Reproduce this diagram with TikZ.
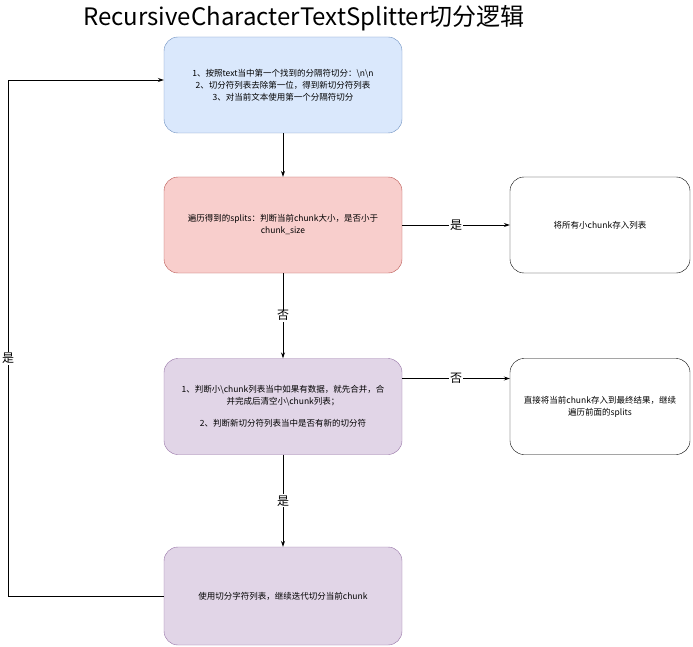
\documentclass[tikz,border=0pt]{standalone}
\usepackage{fontspec}
\setmainfont{Noto Sans CJK SC}
\usetikzlibrary{positioning,arrows.meta}
\definecolor{blueFill}{HTML}{DAE8FC}
\definecolor{blueLine}{HTML}{6C8EBF}
\definecolor{redFill}{HTML}{F8CECC}
\definecolor{redLine}{HTML}{B85450}
\definecolor{purpleFill}{HTML}{E1D5E7}
\definecolor{purpleLine}{HTML}{9673A6}
\tikzset{
  box/.style={draw, rounded corners=14pt, minimum width=238pt, minimum height=96pt,
    align=center, font=\fontsize{8.5}{12}\selectfont, inner sep=2pt},
  sidebox/.style={box, minimum width=180pt},
  flow/.style={-{Stealth[length=6pt,width=4pt]}, line width=0.7pt},
  lbl/.style={font=\fontsize{12}{14}\selectfont, fill=white, inner sep=1pt}
}
\begin{document}
\begin{tikzpicture}[x=1pt, y=-1pt]
    \useasboundingbox (0,0) rectangle (693,647);

    % Title
    \node[font=\fontsize{24}{28}\selectfont] (title) at (304,18) {RecursiveCharacterTextSplitter切分逻辑};

    % Main column
    \node[box, fill=blueFill, draw=blueLine] (split) at (283,85)
        {1、按照text当中第一个找到的分隔符切分：\textbackslash n\textbackslash n\\
         2、切分符列表去除第一位，得到新切分符列表\\
         3、对当前文本使用第一个分隔符切分};
    \node[box, fill=redFill, draw=redLine] (loop) at (283,225)
        {遍历得到的splits：判断当前chunk大小，是否小于\\chunk\_size};
    \node[box, fill=purpleFill, draw=purpleLine] (merge) at (283,406.5)
        {1、判断小\textbackslash chunk列表当中如果有数据，就先合并，合\\并完成后清空小\textbackslash chunk列表；\\[10pt]
         2、判断新切分符列表当中是否有新的切分符};
    \node[box, fill=purpleFill, draw=purpleLine, minimum height=98pt] (again) at (283,596)
        {使用切分字符列表，继续迭代切分当前chunk};

    % Side boxes
    \node[sidebox] (store) at (600,225) {将所有小chunk存入列表};
    \node[sidebox] (final) at (600,406.5)
        {直接将当前chunk存入到最终结果，继续\\遍历前面的splits};

    % Edges
    \draw[flow] (split) -- (loop);
    \draw[flow] (loop) -- node[lbl] {否} (merge);
    \draw[flow] (merge) -- node[lbl] {是} (again);
    \draw[flow] (loop) -- node[lbl] {是} (store);
    \draw[flow] (merge.east) ++(0,-28) coordinate (m) (m) -- node[lbl] {否} (m -| final.west);
    \coordinate (bl) at (8,596);
    \coordinate (tl) at (8,80);
    \draw[flow] (again.west) -- (bl) -- node[lbl, pos=0.46] {是} (tl) -- (tl -| split.west);
\end{tikzpicture}
\end{document}
